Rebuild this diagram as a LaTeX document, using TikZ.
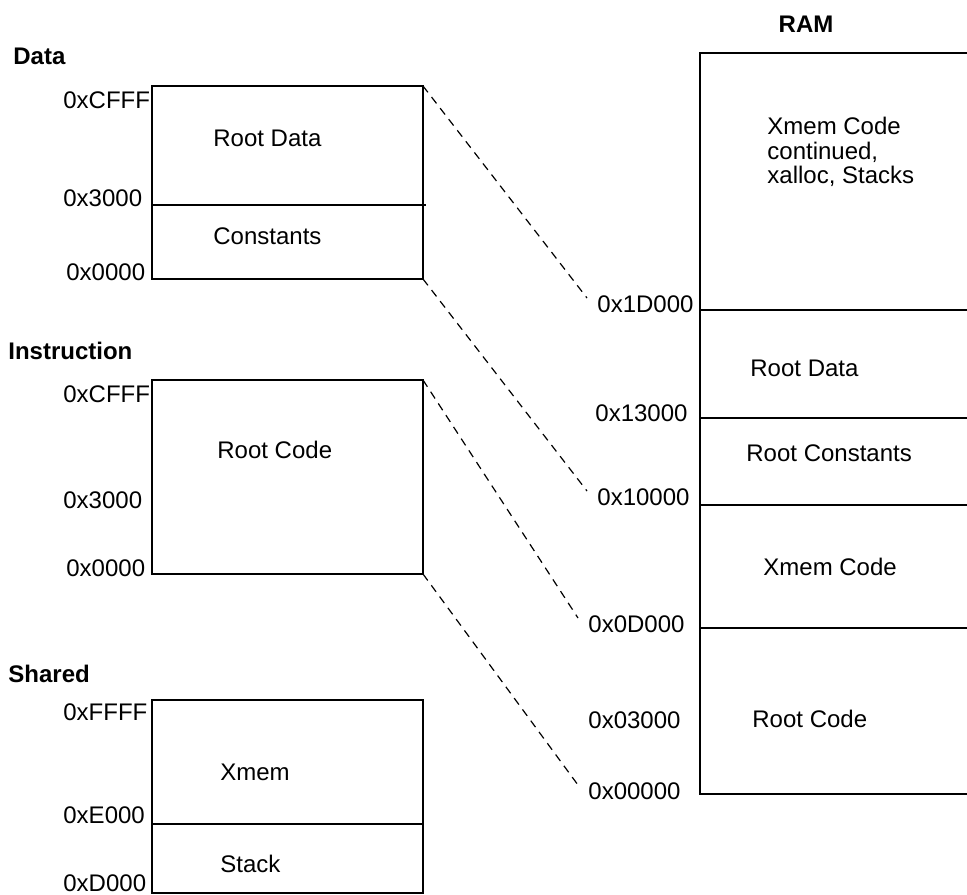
\documentclass[tikz,border=0pt]{standalone}
\usepackage{fontspec}
\setmainfont{Liberation Sans}
\tikzset{
  mbox/.style={draw=black, line width=1pt, anchor=north west, inner sep=0pt, outer sep=0pt},
  addr/.style={anchor=west, inner sep=2pt, font=\fontsize{12}{14}\selectfont},
  mtxt/.style={anchor=west, inner sep=0pt, font=\fontsize{12}{12.3}\selectfont},
  mttl/.style={anchor=west, inner sep=0pt, font=\bfseries\fontsize{12}{14}\selectfont},
  mdiv/.style={line width=1pt},
  mmap/.style={line width=0.6pt, dash pattern=on 4pt off 3pt}
}
\begin{document}
\begin{tikzpicture}[x=0.5pt,y=-0.5pt]
\useasboundingbox (0,0) rectangle (967,894);
% left side: the three 16-bit spaces
\node[mttl] (tdat) at (13,56) {Data};
\node[mbox, minimum width=135.5pt, minimum height=96.5pt] (dat) at (152,86) {};
\draw[mdiv] (dat.west |- 0,205) -- ([xshift=1.5pt]dat.east |- 0,205);
\node[addr] (d1) at (59,100) {0xCFFF};
\node[addr] (d2) at (59,198) {0x3000};
\node[addr] (d3) at (62,272) {0x0000};
\node[mtxt] (d4) at (213,138) {Root Data};
\node[mtxt] (d5) at (213,236) {Constants};

\node[mttl] (tins) at (8,351) {Instruction};
\node[mbox, minimum width=135.5pt, minimum height=97pt] (ins) at (152,380) {};
\node[addr] (i1) at (59,394) {0xCFFF};
\node[addr] (i2) at (59,500) {0x3000};
\node[addr] (i3) at (62,568) {0x0000};
\node[mtxt] (i4) at (217,450) {Root Code};

\node[mttl] (tsha) at (8,674) {Shared};
\node[mbox, minimum width=135.5pt, minimum height=96.5pt] (sha) at (152,700) {};
\draw[mdiv] (sha.west |- 0,824) -- (sha.east |- 0,824);
\node[addr] (s1) at (59,712) {0xFFFF};
\node[addr] (s2) at (59,815) {0xE000};
\node[addr] (s3) at (59,883) {0xD000};
\node[mtxt] (s4) at (220,772) {Xmem};
\node[mtxt] (s5) at (220,864) {Stack};

% right side: physical RAM
\node[mttl, anchor=center] (tram) at (806,24) {RAM};
\node[mbox, minimum width=145pt, minimum height=370.5pt] (ram) at (700,53) {};
\foreach \yy in {310,418,505,628}
  \draw[mdiv] (ram.west |- 0,\yy) -- (ram.east |- 0,\yy);
\node[addr] (r1) at (593,304) {0x1D000};
\node[addr] (r2) at (591,413) {0x13000};
\node[addr] (r3) at (593,497) {0x10000};
\node[addr] (r4) at (584,624) {0x0D000};
\node[addr] (r5) at (584,720) {0x03000};
\node[addr] (r6) at (584,791) {0x00000};
\node[mtxt, anchor=north west, align=left] (r7) at (767,117) {Xmem Code\\continued,\\xalloc, Stacks};
\node[mtxt] (r8) at (750,368) {Root Data};
\node[mtxt] (r9) at (746,453) {Root Constants};
\node[mtxt] (r10) at (763,567) {Xmem Code};
\node[mtxt] (r11) at (752,719) {Root Code};

% mapping lines
\draw[mmap] (dat.north east) -- ([xshift=-3pt,yshift=3pt]r1.west);
\draw[mmap] (dat.south east) -- ([xshift=-3pt,yshift=3pt]r3.west);
\draw[mmap] (ins.north east) -- ([xshift=-3pt,yshift=3pt]r4.west);
\draw[mmap] (ins.south east) -- ([xshift=-3pt,yshift=3pt]r6.west);
\end{tikzpicture}
\end{document}
